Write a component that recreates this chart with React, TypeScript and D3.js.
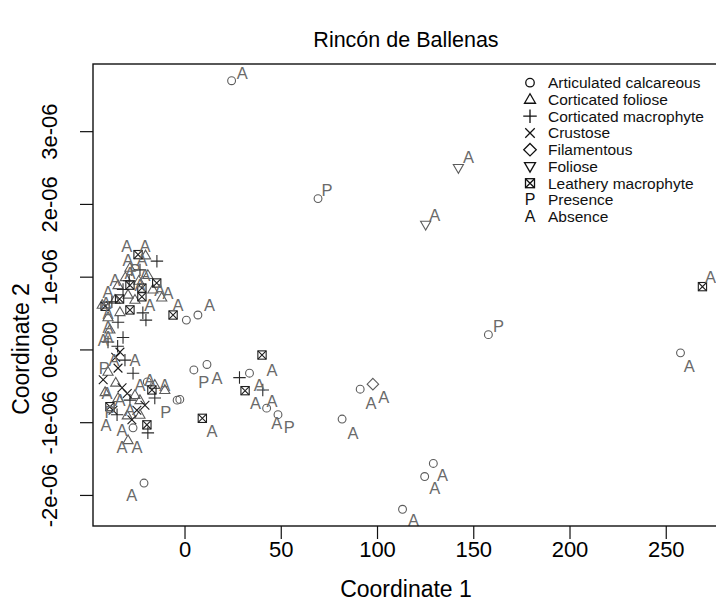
import React from "react";
import * as d3 from "d3";

// Coordinate 1 values and Coordinate 2 values (Coordinate 2 in units of 1e-06)
const articulatedCalcareous: [number, number][] = [
  [24.2, 3.7], [69.1, 2.08], [157.6, 0.21], [257.4, -0.04], [91, -0.54], [81.6, -0.95],
  [129, -1.56], [124.5, -1.74], [113, -2.19], [-21.3, -1.83], [4.6, -0.275], [11.4, -0.2],
  [33.5, -0.32], [42.4, -0.8], [48.3, -0.89], [-2.7, -0.68], [-19.6, -0.44], [-4.1, -0.69],
  [0.7, 0.41], [6.7, 0.48], [-27, -1.07],
];
const corticatedFoliose: [number, number][] = [
  [-20.5, 1.3], [-28.6, 1.13], [-19.3, 1.03], [-34.8, 0.89], [-36.4, 0.69], [-29.6, 0.76],
  [-16.7, 0.83], [-12.1, 0.72], [-33.8, 0.52], [-40, 0.45], [-39, 0.28], [-26, 0.69],
  [-40, -0.3], [-34.8, -0.66], [-26, -0.62], [-23.4, -0.89], [-15.7, -0.48], [-29.6, -1.24],
  [-41.5, -0.58], [-23.4, -0.69], [-43, 0.62], [-31, 1.0], [-24, 0.95], [-10.5, -0.55],
  [-36, -0.45], [-30, -0.9],
];
const corticatedMacrophyte: [number, number][] = [
  [-14.6, 1.22], [-23.4, 1.1], [-32.2, 0.83], [-21.9, 0.51], [-20.3, 0.41], [-34.8, 0.38],
  [-32.2, 0.17], [-38, 0.66], [-31.2, -0.14], [-27, -0.32], [-35.3, -0.89], [-15.7, -0.66],
  [-19.3, -1.14], [-40, 0.11], [-28.6, -0.69], [28.3, -0.38], [40.4, -0.55], [-35, 0.05],
  [-29, 0.95],
];
const crustose: [number, number][] = [
  [-33.8, -0.03], [-34.8, -0.25], [-32.7, -0.52], [-37.4, -0.83], [-25, -0.83], [-27.6, -0.96],
  [-42.5, -0.41], [-20.8, -0.76], [-36, -0.1], [-30, -0.6],
];
const filamentous: [number, number][] = [[97.6, -0.47]];
const foliose: [number, number][] = [[142, 2.5], [125, 1.72]];
const leatheryMacrophyte: [number, number][] = [
  [268.8, 0.87], [40, -0.07], [31.2, -0.56], [9, -0.94], [-6.2, 0.48], [-24.4, 1.31],
  [-28.6, 0.89], [-22.4, 0.85], [-14.7, 0.92], [-22.4, 0.73], [-41.5, 0.6], [-28.6, 0.55],
  [-39, -0.78], [-17.2, -0.55], [-19.8, -1.03], [-34, 0.7],
];

const presenceLabels: [number, number][] = [
  [73.8, 2.2], [162.8, 0.33], [9.7, -0.44], [54.2, -1.06], [-10, -0.85], [-26, 1.1],
  [-42, -0.25], [-39, -0.85],
];
const absenceLabels: [number, number][] = [
  [29.8, 3.81], [147.3, 2.65], [129.7, 1.86], [273, 1.0], [262, -0.22], [96.6, -0.73],
  [103.3, -0.65], [87.3, -1.14], [133.8, -1.72], [129.7, -1.9], [118.7, -2.34], [-27.7, -1.99],
  [16.6, -0.38], [45.2, -0.27], [38.6, -0.48], [36.6, -0.73], [45.2, -0.7], [47.6, -1.01],
  [14, -1.11], [-10.5, -0.48], [12.7, 0.62], [-3.6, 0.62], [-8.8, 0.78],
  [-30.2, 1.43], [-20.8, 1.43], [-29.6, 1.24], [-22.4, 1.24], [-28.6, 1.06], [-20.8, 1.03],
  [-40, 0.8], [-41, 0.65], [-40, 0.51], [-40, 0.32], [-40, 0.18], [-36.4, 0.96],
  [-23.4, 0.89], [-13.1, 0.83], [-18.3, 0.62], [-42.5, 0.14], [-40.5, -0.59], [-41, -1.03],
  [-32.7, -1.1], [-32.7, -1.33], [-25, -1.33], [-33.8, -0.69], [-23.4, -0.48], [-28.6, -0.83],
  [-18.3, -0.41], [-36.9, -0.14], [-26, -0.14],
];

const xTicks = [0, 50, 100, 150, 200, 250];
const yTicks = [-2, -1, 0, 1, 2, 3];
const yTickLabels = ["-2e-06", "-1e-06", "0e-00", "1e-06", "2e-06", "3e-06"];
const legendLabels = [
  "Articulated calcareous", "Corticated foliose", "Corticated macrophyte", "Crustose",
  "Filamentous", "Foliose", "Leathery macrophyte", "Presence", "Absence",
];
const legendKinds = ["circle", "triUp", "plus", "cross", "diamond", "triDown", "box", "P", "A"];

const W = 716, H = 602;
const FONT = "Liberation Sans, Arial, Helvetica, sans-serif";

function Symbol({ kind, cx, cy, s, color, sw }: { kind: string; cx: number; cy: number; s: number; color: string; sw: number }) {
  const common = { fill: "none", stroke: color, strokeWidth: sw };
  if (kind === "circle") return <circle cx={cx} cy={cy} r={s * 0.85} {...common} />;
  if (kind === "triUp") {
    const h = s * 1.9;
    const pts = [[cx, cy - h * 0.6], [cx - s * 1.1, cy + h * 0.4], [cx + s * 1.1, cy + h * 0.4]];
    return <polygon points={pts.map((p) => p.join(",")).join(" ")} {...common} />;
  }
  if (kind === "triDown") {
    const h = s * 1.9;
    const pts = [[cx, cy + h * 0.6], [cx - s * 1.1, cy - h * 0.4], [cx + s * 1.1, cy - h * 0.4]];
    return <polygon points={pts.map((p) => p.join(",")).join(" ")} {...common} />;
  }
  if (kind === "plus") {
    const a = s * 1.35;
    return <path d={`M${cx - a},${cy}H${cx + a}M${cx},${cy - a}V${cy + a}`} {...common} />;
  }
  if (kind === "cross") {
    const a = s * 0.95;
    return <path d={`M${cx - a},${cy - a}L${cx + a},${cy + a}M${cx - a},${cy + a}L${cx + a},${cy - a}`} {...common} />;
  }
  if (kind === "diamond") {
    const a = s * 1.25;
    return <polygon points={`${cx},${cy - a} ${cx + a},${cy} ${cx},${cy + a} ${cx - a},${cy}`} {...common} />;
  }
  if (kind === "box") {
    const a = s * 0.9;
    return (
      <g>
        <rect x={cx - a} y={cy - a} width={2 * a} height={2 * a} {...common} />
        <path d={`M${cx - a},${cy - a}L${cx + a},${cy + a}M${cx - a},${cy + a}L${cx + a},${cy - a}`} {...common} />
      </g>
    );
  }
  return (
    <text x={cx} y={cy} textAnchor="middle" dominantBaseline="central" fontFamily={FONT} fontSize={s * 3.2} fill={color}>
      {kind}
    </text>
  );
}

export default function App() {
  const x = d3.scaleLinear().domain([-47.8, 277.4]).range([93, 719]);
  const y = d3.scaleLinear().domain([-2.42e-6, 3.93e-6]).range([526, 64]);
  const U = 1e-6;

  const groups: { kind: string; data: [number, number][]; color: string }[] = [
    { kind: "circle", data: articulatedCalcareous, color: "#5c5c5c" },
    { kind: "triUp", data: corticatedFoliose, color: "#5c5c5c" },
    { kind: "plus", data: corticatedMacrophyte, color: "#2a2a2a" },
    { kind: "cross", data: crustose, color: "#1a1a1a" },
    { kind: "diamond", data: filamentous, color: "#5c5c5c" },
    { kind: "triDown", data: foliose, color: "#5c5c5c" },
    { kind: "box", data: leatheryMacrophyte, color: "#1f1f1f" },
  ];

  return (
    <svg width={W} height={H} style={{ position: "absolute", left: 0, top: 0, background: "#fff" }}>
      <rect width={W} height={H} fill="#fff" />
      <text x={406} y={47} textAnchor="middle" fontFamily={FONT} fontSize={21.5}>Rincón de Ballenas</text>

      {groups.map((g) =>
        g.data.map((d, i) => (
          <Symbol key={g.kind + i} kind={g.kind} cx={x(d[0])} cy={y(d[1] * U)} s={4.6} color={g.color} sw={1.1} />
        ))
      )}
      {presenceLabels.map((d, i) => (
        <text key={"p" + i} x={x(d[0])} y={y(d[1] * U)} textAnchor="middle" dominantBaseline="central"
          fontFamily={FONT} fontSize={16.5} fill="#6a6a6a">P</text>
      ))}
      {absenceLabels.map((d, i) => (
        <text key={"a" + i} x={x(d[0])} y={y(d[1] * U)} textAnchor="middle" dominantBaseline="central"
          fontFamily={FONT} fontSize={16.5} fill="#6a6a6a">A</text>
      ))}

      <rect x={93} y={64} width={626} height={462} fill="none" stroke="#111" strokeWidth={1.4} />

      {xTicks.map((t) => (
        <g key={"xt" + t}>
          <line x1={x(t)} x2={x(t)} y1={526} y2={539} stroke="#111" strokeWidth={1.2} />
          <text x={x(t)} y={557} textAnchor="middle" fontFamily={FONT} fontSize={22}>{t}</text>
        </g>
      ))}
      {yTicks.map((t, i) => (
        <g key={"yt" + t}>
          <line x1={80} x2={93} y1={y(t * U)} y2={y(t * U)} stroke="#111" strokeWidth={1.2} />
          <text transform={`translate(57,${y(t * U)}) rotate(-90)`} textAnchor="middle" fontFamily={FONT} fontSize={22}>
            {yTickLabels[i]}
          </text>
        </g>
      ))}
      <text x={406} y={597} textAnchor="middle" fontFamily={FONT} fontSize={23}>Coordinate 1</text>
      <text transform={`translate(29,349) rotate(-90)`} textAnchor="middle" fontFamily={FONT} fontSize={23}>Coordinate 2</text>

      {legendLabels.map((l, i) => {
        const cy = 82.7 + i * 16.75;
        return (
          <g key={"lg" + i}>
            <Symbol kind={legendKinds[i]} cx={530} cy={cy} s={5} color="#111" sw={1.3} />
            <text x={548} y={cy} dominantBaseline="central" fontFamily={FONT} fontSize={15.5} fill="#111">{l}</text>
          </g>
        );
      })}
    </svg>
  );
}
